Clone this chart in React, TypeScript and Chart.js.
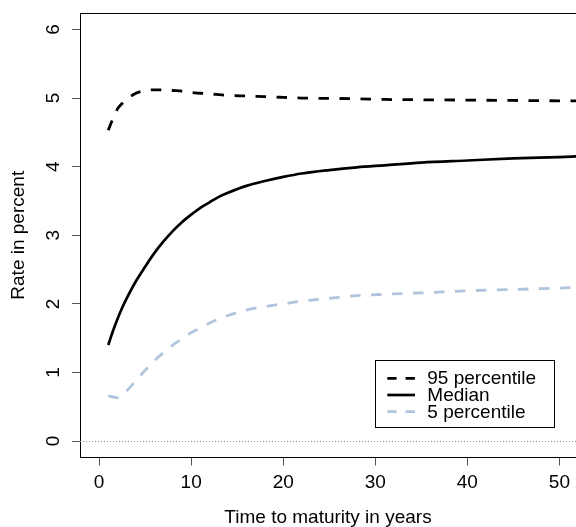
import React, { useEffect, useRef } from "react";
import { Chart, registerables } from "chart.js";

Chart.register(...registerables);

// Time to maturity (years)
const MATURITY = [1, 1.5, 2, 2.5, 3, 4, 5, 6, 7, 8, 9, 10, 11, 12, 13, 14, 16, 18, 20, 22, 25, 28, 31, 35, 40, 45, 50, 52];
// Rates in percent
const P95 = [4.53, 4.7, 4.84, 4.92, 4.98, 5.07, 5.11, 5.12, 5.12, 5.11, 5.1, 5.08, 5.07, 5.06, 5.05, 5.04, 5.03, 5.02, 5.01, 5.0, 4.995, 4.99, 4.98, 4.975, 4.97, 4.965, 4.96, 4.96];
const MEDIAN = [1.4, 1.6, 1.78, 1.94, 2.08, 2.33, 2.54, 2.74, 2.91, 3.06, 3.19, 3.3, 3.4, 3.48, 3.56, 3.62, 3.72, 3.79, 3.85, 3.9, 3.95, 3.99, 4.02, 4.06, 4.09, 4.12, 4.14, 4.15];
const P5 = [0.66, 0.645, 0.63, 0.665, 0.73, 0.88, 1.03, 1.17, 1.29, 1.4, 1.49, 1.58, 1.65, 1.72, 1.78, 1.83, 1.91, 1.96, 2.0, 2.04, 2.08, 2.12, 2.14, 2.16, 2.19, 2.21, 2.23, 2.24];

const SERIES_LABELS = ["95 percentile", "Median", "5 percentile"];
const X_TICKS = [0, 10, 20, 30, 40, 50];
const Y_TICKS = [0, 1, 2, 3, 4, 5, 6];
const X_MIN = -2.07;
const X_MAX = 51.8;
const Y_MIN = -0.24;
const Y_MAX = 6.24;
const X_TITLE = "Time to maturity in years";
const Y_TITLE = "Rate in percent";

const FAMILY = "'Liberation Sans', Arial, Helvetica, sans-serif";

export default function App() {
  const ref = useRef<HTMLCanvasElement>(null);

  useEffect(() => {
    document.body.style.margin = "0";
    const canvas = ref.current;
    if (!canvas) return;
    const pts = (ys: number[]) => MATURITY.map((x, i) => ({ x, y: ys[i] }));
    const FONT = { family: FAMILY, size: 19 };

    const rPlugin = {
      id: "rstyle",
      beforeDatasetsDraw(chart: any) {
        const { ctx, chartArea: a, scales } = chart;
        const y0 = Math.round(scales.y.getPixelForValue(0)) + 0.5;
        ctx.save();
        ctx.strokeStyle = "#8c8c8c";
        ctx.lineWidth = 1;
        ctx.setLineDash([1, 2]);
        ctx.beginPath();
        ctx.moveTo(a.left, y0);
        ctx.lineTo(a.right, y0);
        ctx.stroke();
        ctx.restore();
      },
      afterDraw(chart: any) {
        const { ctx, chartArea: a } = chart;
        ctx.save();
        // top border of the plot box
        ctx.strokeStyle = "#000";
        ctx.lineWidth = 1;
        ctx.setLineDash([]);
        ctx.beginPath();
        ctx.moveTo(a.left, Math.round(a.top) + 0.5);
        ctx.lineTo(a.right, Math.round(a.top) + 0.5);
        ctx.stroke();

        // legend box
        const bx = 375.5, by = 360.5, bw = 179, bh = 67;
        ctx.fillStyle = "#fff";
        ctx.fillRect(bx, by, bw, bh);
        ctx.strokeRect(bx, by, bw, bh);
        ctx.font = `19px ${FAMILY}`;
        ctx.textBaseline = "alphabetic";
        ctx.textAlign = "left";
        chart.data.datasets.forEach((ds: any, i: number) => {
          const base = 384.3 + i * 16.7;
          const ly = base - 6;
          ctx.strokeStyle = ds.borderColor;
          ctx.lineWidth = ds.borderWidth;
          ctx.lineCap = "butt";
          ctx.setLineDash(ds.borderDash && ds.borderDash.length ? [9.3, 9] : []);
          ctx.beginPath();
          ctx.moveTo(387.3, ly);
          ctx.lineTo(415, ly);
          ctx.stroke();
          ctx.setLineDash([]);
          ctx.fillStyle = "#000";
          ctx.fillText(ds.label, 427.3, base);
        });
        ctx.restore();
      },
    };

    const gridOpts = { drawOnChartArea: false, drawTicks: true, tickLength: 8, color: "#555", lineWidth: 1 };
    const borderOpts = { display: true, color: "#000", width: 1 };

    const chart = new Chart(canvas, {
      type: "line",
      data: {
        datasets: [
          { label: SERIES_LABELS[0], data: pts(P95), borderColor: "#000", borderWidth: 2.8, borderDash: [10.5, 10.5], pointRadius: 0, fill: false, cubicInterpolationMode: "monotone" },
          { label: SERIES_LABELS[1], data: pts(MEDIAN), borderColor: "#000", borderWidth: 2.7, borderDash: [], pointRadius: 0, fill: false, cubicInterpolationMode: "monotone" },
          { label: SERIES_LABELS[2], data: pts(P5), borderColor: "#b0c4de", borderWidth: 2.8, borderDash: [10.5, 10.5], pointRadius: 0, fill: false, cubicInterpolationMode: "monotone" },
        ],
      },
      options: {
        animation: false,
        responsive: false,
        devicePixelRatio: 1,
        layout: { padding: { top: 13, left: 0, right: 0, bottom: 0 } },
        plugins: { legend: { display: false }, tooltip: { enabled: false } },
        scales: {
          x: {
            type: "linear",
            min: X_MIN,
            max: X_MAX,
            afterBuildTicks: (s: any) => { s.ticks = X_TICKS.map((v) => ({ value: v })); },
            afterFit: (s: any) => { s.height = 69.5; s.paddingLeft = 0; s.paddingRight = 0; },
            grid: gridOpts,
            border: borderOpts,
            ticks: { font: FONT, color: "#000", padding: 6, maxRotation: 0, autoSkip: false, callback: (v: any) => String(v) },
            title: { display: true, text: X_TITLE, font: { ...FONT, lineHeight: 1 }, color: "#000", padding: { top: 0, bottom: 0 } },
          },
          y: {
            type: "linear",
            min: Y_MIN,
            max: Y_MAX,
            afterBuildTicks: (s: any) => { s.ticks = Y_TICKS.map((v) => ({ value: v })); },
            afterFit: (s: any) => { s.width = 80; s.paddingTop = 0; s.paddingBottom = 0; },
            grid: gridOpts,
            border: borderOpts,
            ticks: { font: FONT, color: "#000", padding: 13, minRotation: 90, maxRotation: 90, crossAlign: "center", autoSkip: false, callback: (v: any) => String(v) },
            title: { display: true, text: Y_TITLE, font: { ...FONT, lineHeight: 1 }, color: "#000", padding: { top: 9, bottom: 0 } },
          },
        },
      },
      plugins: [rPlugin],
    } as any);

    return () => chart.destroy();
  }, []);

  return (
    <div style={{ width: 576, height: 527 }}>
      <canvas ref={ref} width={576} height={527} style={{ display: "block" }} />
    </div>
  );
}
